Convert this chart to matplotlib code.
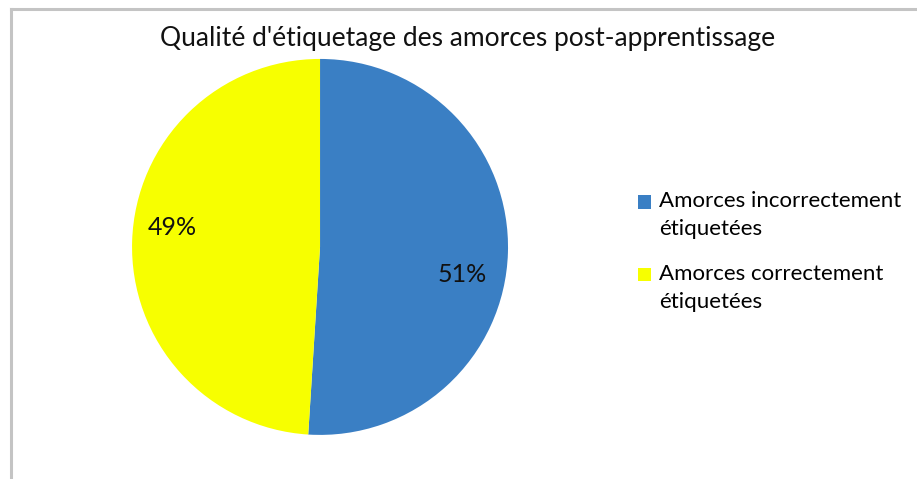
import matplotlib.pyplot as plt
from matplotlib.lines import Line2D
from matplotlib.patches import Rectangle
from matplotlib.legend_handler import HandlerPatch

plt.rcParams['font.family'] = ['Lato', 'DejaVu Sans']

labels = ["Amorces incorrectement\nétiquetées", "Amorces correctement\nétiquetées"]
shares = [51, 49]
colors = ['#3a7fc4', '#f7ff00']
pct_pos = [(0.755, -0.149), (-0.787, 0.101)]

fig = plt.figure(figsize=(9.17, 4.79), dpi=100)
ax = fig.add_axes([0.144, 0.092, 0.410, 0.785])

wedges, texts, autotexts = ax.pie(shares, colors=colors, startangle=90,
                                  counterclock=False, autopct='%1.0f%%',
                                  textprops={'fontsize': 18, 'color': '#111111'})
for t, (x, y) in zip(autotexts, pct_pos):
    t.set_position((x, y))
    t.set_va('center')
ax.set_xlim(-1, 1)
ax.set_ylim(-1, 1)
ax.set_aspect('equal')
ax.axis('off')

fig.text(0.51, 0.92, "Qualité d'étiquetage des amorces post-apprentissage",
         ha='center', va='center', fontsize=19, color='#111111')


def top_square(legend, orig_handle, xdescent, ydescent, width, height, fontsize):
    # put the colour key next to the first line of a two-line label
    return Rectangle((-xdescent, -ydescent + 9.5), width, height)


leg = fig.legend(wedges, labels, loc='upper left', bbox_to_anchor=(0.684, 0.624),
                 frameon=False, fontsize=16, handlelength=0.55, handleheight=0.55,
                 handletextpad=0.4, labelspacing=1.1, borderpad=0,
                 handler_map={type(wedges[0]): HandlerPatch(patch_func=top_square)})
for t in leg.get_texts():
    t.set_linespacing(1.5)

# chart frame (left and top edges)
fig.add_artist(Line2D([0.012, 0.012], [0, 0.981], color='#c4c4c4', lw=2.2,
                      transform=fig.transFigure))
fig.add_artist(Line2D([0.012, 1], [0.981, 0.981], color='#c4c4c4', lw=2.2,
                      transform=fig.transFigure))

fig.savefig('out.png', dpi=100, facecolor='white')
